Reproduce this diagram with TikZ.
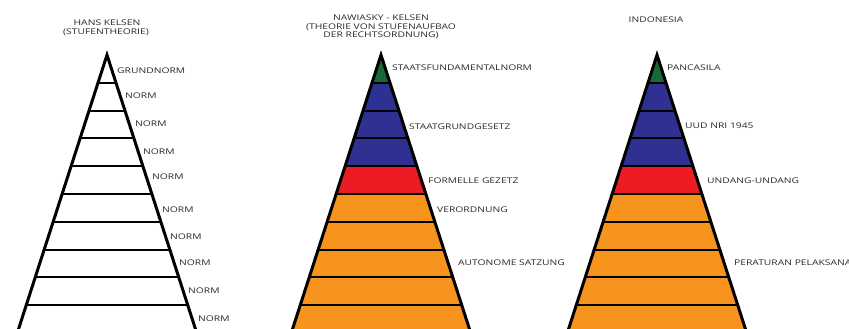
\documentclass[tikz,border=0pt]{standalone}
\usepackage{fontspec}
\setmainfont{Open Sans}[FakeStretch=1.32]
\definecolor{pgreen}{HTML}{17693A}
\definecolor{pblue}{HTML}{2E3192}
\definecolor{pred}{HTML}{ED1C24}
\definecolor{porange}{HTML}{F7941D}
\definecolor{ptext}{HTML}{2A2A2A}
\newcommand{\PyrFill}[2]{%
  \foreach \ya/\yb/\col in {#2}{%
    \pgfmathsetmacro\wa{0.322*(\ya-55)}%
    \pgfmathsetmacro\wb{0.322*(\yb-55)}%
    \fill[\col] (#1-\wa,\ya) -- (#1+\wa,\ya) -- (#1+\wb,\yb) -- (#1-\wb,\yb) -- cycle;
  }%
  \foreach \yy in {83,111,138,166,194,222,250,277,305}{%
    \pgfmathsetmacro\ww{0.322*(\yy-55)}%
    \draw[hline] (#1-\ww,\yy) -- (#1+\ww,\yy);
  }%
  \draw[edge] (#1-92,340) -- (#1,55) -- (#1+92,340);
}
\tikzset{
  hline/.style={line width=2.2pt,black},
  edge/.style={line width=3pt,black,line join=miter},
  lab/.style={anchor=base west,inner sep=0pt,text=ptext,font=\fontsize{7.8}{9}\selectfont},
  ttl/.style={anchor=base,inner sep=0pt,text=ptext,font=\fontsize{7.8}{9}\selectfont}
}
\begin{document}
\begin{tikzpicture}[x=1pt,y=-1pt]
\useasboundingbox (0,0) rectangle (849,329);
\clip (0,0) rectangle (849,329);
% pyramid 1
\PyrFill{107}{55/340/white}
% pyramid 2
\PyrFill{381}{55/83/pgreen,83/166/pblue,166/194/pred,194/340/porange}
% pyramid 3
\PyrFill{657}{55/83/pgreen,83/166/pblue,166/194/pred,194/340/porange}
% titles
\node[ttl] (t1a) at (107,25.8) {HANS KELSEN};
\node[ttl] (t1b) at (106,34.8) {(STUFENTHEORIE)};
\node[ttl] (t2a) at (381,20.8) {NAWIASKY - KELSEN};
\node[ttl] (t2b) at (381,29.4) {(THEORIE VON STUFENAUFBAO};
\node[ttl] (t2c) at (381,37.6) {DER RECHTSORDNUNG)};
\node[ttl] (t3a) at (656,22.8) {INDONESIA};
% labels pyramid 1
\node[lab] (n0) at (117,73.8) {GRUNDNORM};
\node[lab] (n1) at (125,98.8) {NORM};
\node[lab] (n2) at (135,126.8) {NORM};
\node[lab] (n3) at (143,154.8) {NORM};
\node[lab] (n4) at (152,179.8) {NORM};
\node[lab] (n5) at (162,212.8) {NORM};
\node[lab] (n6) at (170,239.8) {NORM};
\node[lab] (n7) at (179,265.8) {NORM};
\node[lab] (n8) at (188,293.8) {NORM};
\node[lab] (n9) at (198,321.8) {NORM};
% labels pyramid 2
\node[lab] (m1) at (392,70.8) {STAATSFUNDAMENTALNORM};
\node[lab] (m2) at (409,129.8) {STAATGRUNDGESETZ};
\node[lab] (m3) at (428,183.8) {FORMELLE GEZETZ};
\node[lab] (m4) at (437,212.8) {VERORDNUNG};
\node[lab] (m5) at (458,265.8) {AUTONOME SATZUNG};
% labels pyramid 3
\node[lab] (k1) at (667,70.8) {PANCASILA};
\node[lab] (k2) at (685,128.8) {UUD NRI 1945};
\node[lab] (k3) at (707,183.8) {UNDANG-UNDANG};
\node[lab] (k4) at (734,265.8) {PERATURAN PELAKSANA};
\end{tikzpicture}
\end{document}
